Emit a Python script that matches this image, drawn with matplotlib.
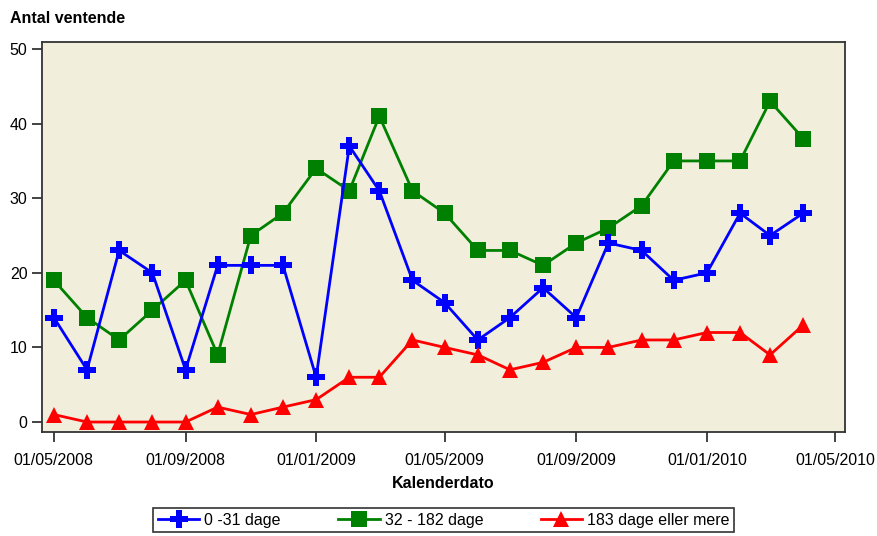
import matplotlib
matplotlib.use("Agg")
import matplotlib.pyplot as plt
import matplotlib.dates as mdates
import pandas as pd

plt.rcParams['font.family'] = ['Liberation Sans', 'DejaVu Sans']

# monthly counts, May 2008 - April 2010
dates = pd.date_range('2008-05-01', periods=24, freq='MS')
dage_0_31 = [14, 7, 23, 20, 7, 21, 21, 21, 6, 37, 31, 19, 16, 11, 14, 18,
             14, 24, 23, 19, 20, 28, 25, 28]
dage_32_182 = [19, 14, 11, 15, 19, 9, 25, 28, 34, 31, 41, 31, 28, 23, 23, 21,
               24, 26, 29, 35, 35, 35, 43, 38]
dage_183 = [1, 0, 0, 0, 0, 2, 1, 2, 3, 6, 6, 11, 10, 9, 7, 8,
            10, 10, 11, 11, 12, 12, 9, 13]
labels = ['0 -31 dage', '32 - 182 dage', '183 dage eller mere']
xticks = pd.date_range('2008-05-01', '2010-05-01', freq='4MS')

fig = plt.figure(figsize=(8.77, 5.36), dpi=100)
ax = fig.add_axes([0.048, 0.194, 0.9155, 0.7276])
ax.set_facecolor('#F1EFDC')

ax.plot(dates, dage_0_31, color='#0000FF', lw=2, marker='P', ms=12.5,
        mew=0, label=labels[0], zorder=3)
ax.plot(dates, dage_32_182, color='#008000', lw=2, marker='s', ms=11,
        mew=0, label=labels[1], zorder=2)
ax.plot(dates, dage_183, color='#FF0000', lw=2, marker='^', ms=11.5,
        mew=0, label=labels[2], zorder=4)

ax.set_ylim(-1.34, 50.94)
ax.set_yticks(range(0, 51, 10))
ax.set_xlim(pd.Timestamp('2008-04-20'), pd.Timestamp('2010-05-10'))
ax.set_xticks(xticks)
ax.xaxis.set_major_formatter(mdates.DateFormatter('%d/%m/%Y'))
ax.tick_params(labelsize=11.5, length=7, width=1.2, colors='#222222',
               labelcolor='black')
ax.tick_params(axis='x', pad=8)
for s in ax.spines.values():
    s.set_linewidth(1.3)
    s.set_color('#333333')

fig.text(0.011, 0.965, 'Antal ventende', fontsize=11.5, fontweight='bold',
         ha='left', va='center')
ax.set_xlabel('Kalenderdato', fontsize=11.5, fontweight='bold',
              labelpad=6)

leg = fig.legend(loc='lower center', bbox_to_anchor=(0.506, -0.008), ncol=3,
                 fontsize=11.5, frameon=True, fancybox=False,
                 handlelength=2.6, columnspacing=3.6, borderpad=0.3,
                 handletextpad=0.3)
leg.get_frame().set_edgecolor('black')
leg.get_frame().set_linewidth(1.2)

fig.savefig('out.png', dpi=100)
